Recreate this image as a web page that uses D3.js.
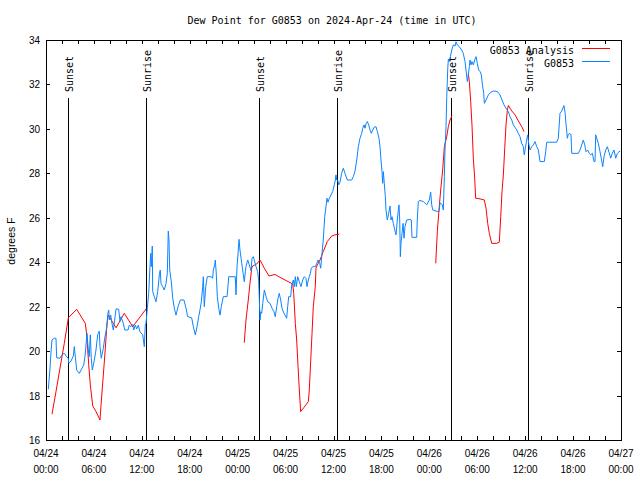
<!DOCTYPE html>
<html><head><meta charset="utf-8">
<script src="https://cdn.jsdelivr.net/npm/d3@7"></script>
<style>body{margin:0;background:#fff}</style>
</head><body>
<svg id="chart" width="640" height="480"></svg>
<script>
const titleText = "Dew Point for G0853 on 2024-Apr-24 (time in UTC)";
const yLabelText = "degrees F";
const seriesNames = ["G0853 Analysis", "G0853"];
const seriesColors = ["#ff0000", "#0a84ff"];
const startUTC = Date.UTC(2024, 3, 24, 0, 0);
const endUTC = Date.UTC(2024, 3, 27, 0, 0);
const yDomain = [16, 34];
const yTickValues = [16, 18, 20, 22, 24, 26, 28, 30, 32, 34];

const sunNames = ["Sunset", "Sunrise", "Sunset", "Sunrise", "Sunset", "Sunrise"];
const sunHours = [2.79, 12.56, 26.71, 36.48, 50.75, 60.39];

// observed G0853: [hours since 04/24 00:00 UTC, deg F]
const obsSeries = [
[0.29,18.28],[0.50,19.23],[0.63,19.97],[0.75,20.5],[1.04,20.58],[1.25,20.58],[1.34,19.7],[1.75,19.68],[2.00,19.83],[2.29,19.9],
[2.59,19.75],[2.79,19.68],[2.84,19.45],[3.13,19.55],[3.42,19.78],[3.54,20.2],[3.67,19.75],[3.84,19.15],[4.17,19.0],[4.51,19.23],
[4.72,19.37],[4.88,19.75],[5.01,20.28],[5.13,20.8],[5.30,20.05],[5.42,19.75],[5.55,20.73],[5.67,19.68],[5.80,19.15],[6.05,19.6],
[6.26,20.05],[6.47,20.73],[6.67,20.9],[6.76,20.2],[6.92,19.68],[7.18,20.12],[7.35,20.58],[7.51,20.87],[7.64,21.17],[7.73,21.65],
[7.85,21.85],[7.93,21.4],[8.10,21.62],[8.26,21.25],[8.43,20.95],[8.60,21.4],[8.77,21.9],[9.10,21.88],[9.27,21.33],[9.39,21.55],
[9.68,21.25],[9.86,20.95],[10.27,20.95],[10.43,21.17],[10.64,21.1],[10.86,21.2],[10.98,20.95],[11.18,21.17],[11.36,21.0],[11.56,21.17],
[11.77,20.87],[12.11,20.73],[12.31,20.2],[12.43,21.17],[12.52,21.25],[12.69,21.93],[12.86,22.6],[13.02,23.8],[13.11,24.4],[13.19,23.8],
[13.31,24.73],[13.36,22.68],[13.56,22.45],[13.77,22.22],[13.99,22.68],[14.19,23.43],[14.31,23.65],[14.40,23.05],[14.61,22.9],[14.81,22.75],
[15.03,23.05],[15.19,23.5],[15.31,25.4],[15.40,25.0],[15.49,23.65],[15.69,23.12],[15.87,22.38],[16.07,21.93],[16.28,21.62],[16.53,22.0],
[16.82,22.3],[17.28,22.3],[17.53,21.93],[17.74,21.55],[18.24,21.5],[18.45,21.1],[18.70,20.73],[18.91,21.1],[19.12,21.55],[19.28,21.85],
[19.45,22.22],[19.62,22.9],[19.70,23.35],[19.82,22.0],[20.00,22.9],[20.20,23.35],[20.66,23.35],[20.87,23.28],[20.95,23.65],[21.13,23.88],
[21.20,24.1],[21.33,23.43],[21.45,22.45],[21.63,21.93],[21.79,21.62],[21.95,22.0],[22.20,22.45],[22.67,22.45],[22.79,22.93],[22.88,23.35],
[23.70,23.35],[23.79,22.53],[23.92,23.8],[24.08,24.55],[24.17,25.03],[24.29,24.55],[24.51,23.95],[24.71,23.43],[24.83,23.12],[24.96,23.57],
[25.04,23.8],[25.26,24.1],[25.46,23.88],[25.67,23.62],[25.80,24.18],[25.96,24.25],[26.08,24.1],[26.30,23.8],[26.51,23.57],[26.63,23.2],
[26.80,21.4],[26.89,21.77],[27.01,21.7],[27.14,22.15],[27.34,22.75],[27.55,22.45],[27.76,22.22],[28.05,22.15],[28.30,21.93],[28.55,21.77],
[28.71,21.55],[28.89,22.0],[29.05,22.38],[29.21,22.6],[29.39,22.3],[29.55,21.93],[29.80,21.7],[30.14,21.48],[30.26,22.0],[30.39,22.45],
[30.64,22.45],[30.77,22.98],[30.97,23.2],[31.09,22.9],[31.22,23.35],[31.34,22.9],[31.52,23.35],[31.72,23.12],[31.93,22.9],[32.14,23.2],
[32.34,23.35],[32.56,23.27],[32.68,22.9],[32.85,23.2],[32.97,23.35],[33.10,23.5],[33.22,23.73],[33.40,23.8],[33.72,23.8],[33.90,23.95],
[34.06,24.1],[34.27,23.95],[34.40,23.73],[34.56,24.4],[34.72,25.0],[34.90,26.05],[35.06,26.5],[35.19,26.88],[35.31,26.7],[35.48,26.88],
[35.69,27.03],[35.90,27.18],[36.10,27.48],[36.23,27.7],[36.31,27.93],[36.40,27.7],[36.53,27.7],[36.65,27.48],[36.81,27.6],[37.02,28.0],
[37.23,28.23],[37.44,28.0],[37.73,27.7],[38.28,27.7],[38.48,27.85],[38.69,28.1],[38.91,28.6],[39.11,29.2],[39.32,29.58],[39.53,29.8],
[39.66,30.03],[39.82,30.18],[39.95,30.03],[40.07,30.23],[40.23,30.33],[40.41,30.18],[40.57,29.95],[40.73,29.8],[40.91,29.95],[41.11,30.08],
[41.32,30.1],[41.49,29.88],[41.70,29.58],[41.82,29.2],[41.95,28.6],[42.07,28.08],[42.16,27.55],[42.24,28.08],[42.36,27.55],[42.49,26.95],
[42.57,26.35],[42.74,25.9],[42.91,26.2],[43.08,26.53],[43.20,25.9],[43.33,26.05],[43.49,25.75],[43.67,25.45],[43.83,25.23],[43.99,25.9],
[44.12,26.35],[44.20,26.58],[44.29,25.9],[44.37,24.25],[44.45,24.85],[44.58,25.3],[44.71,25.75],[44.83,25.08],[44.95,25.6],[45.17,25.9],
[45.58,25.93],[45.74,25.9],[45.83,25.12],[46.42,25.12],[46.49,25.9],[46.62,26.73],[46.83,26.78],[47.25,26.73],[47.67,26.58],[48.00,26.8],
[48.17,27.15],[48.30,26.58],[48.42,26.35],[49.00,26.28],[49.21,26.28],[49.34,26.65],[49.46,26.65],[49.62,26.58],[49.75,26.35],[49.88,27.85],
[49.96,29.05],[50.09,30.1],[50.18,31.45],[50.30,32.65],[50.38,33.13],[50.50,33.03],[50.63,33.25],[50.81,33.55],[51.01,33.78],[51.22,33.73],
[51.34,33.92],[51.50,33.78],[51.75,33.7],[52.05,33.55],[52.25,33.4],[52.47,33.03],[52.59,32.65],[52.76,32.13],[52.88,32.43],[53.01,32.8],
[53.09,33.1],[53.22,32.88],[53.34,33.03],[53.51,32.88],[53.68,33.1],[53.85,33.25],[54.01,32.95],[54.18,32.65],[54.35,32.58],[54.51,32.43],
[54.63,32.05],[54.81,31.6],[54.89,31.15],[55.10,31.3],[55.39,31.53],[55.69,31.65],[56.01,31.7],[56.35,31.7],[56.60,31.65],[56.85,31.53],
[57.10,31.3],[57.35,31.08],[57.60,30.93],[57.89,30.78],[58.10,30.55],[58.32,30.4],[58.52,30.18],[58.73,30.07],[58.94,29.95],[59.14,29.8],
[59.35,29.65],[59.57,29.35],[59.77,29.2],[59.89,28.83],[60.02,29.13],[60.19,29.5],[60.32,29.73],[60.44,29.35],[60.61,29.05],[60.82,29.2],
[61.02,29.28],[61.23,29.43],[61.45,29.2],[61.65,29.05],[61.86,28.53],[62.40,28.53],[62.57,28.98],[62.70,29.4],[63.95,29.4],[64.15,29.58],
[64.36,30.7],[64.57,30.8],[64.86,31.05],[64.99,30.75],[65.11,30.25],[65.28,29.58],[65.40,29.75],[65.61,29.8],[65.74,29.73],[65.83,28.9],
[66.66,28.9],[66.87,29.05],[67.08,29.28],[67.28,29.5],[67.46,29.28],[67.62,28.97],[67.83,29.05],[68.03,28.9],[68.21,28.83],[68.41,28.9],
[68.62,28.53],[68.75,28.53],[68.83,29.73],[68.96,29.58],[69.16,29.35],[69.37,28.98],[69.53,28.68],[69.71,28.3],[69.87,28.75],[70.09,29.05],
[70.29,29.2],[70.50,28.95],[70.71,28.68],[70.91,28.9],[71.12,29.05],[71.34,28.68],[71.54,28.9],[71.75,28.97],[71.91,29.0]
];

// analysis G0853: segments separated by gaps
const anaSegments = [
[[0.75,17.16],[1.25,18.17],[1.75,19.23],[2.29,20.35],[2.72,21.32],[2.80,21.5],[3.84,21.88],[4.92,21.25],[5.10,20.73],[5.35,19.38],
 [5.55,18.48],[5.85,17.53],[6.26,17.28],[6.76,16.9],[6.89,17.58],[7.18,18.93],[7.43,20.13],[7.64,21.25],[7.80,21.62],[8.77,21.05],
 [9.80,21.7],[10.86,21.1],[12.43,21.85],[12.52,21.9]],
[[24.83,20.38],[25.04,21.4],[25.33,22.3],[25.54,23.05],[25.76,23.73],[25.88,23.83],[26.38,23.92],[26.80,24.1],[27.34,23.73],[27.92,23.38],
 [28.68,23.45],[29.30,23.32],[29.93,23.2],[30.89,23.02],[31.02,22.6],[31.22,21.25],[31.39,20.5],[31.56,19.3],[31.72,18.25],[31.89,17.28],
 [32.31,17.47],[32.85,17.73],[32.97,18.25],[33.15,19.6],[33.31,20.8],[33.47,22.0],[33.72,22.9],[33.81,23.73],[33.97,23.88],[34.31,24.1],
 [34.72,24.48],[35.22,24.93],[35.78,25.18],[36.19,25.23],[36.73,25.27]],
[[48.80,23.95],[49.00,25.37],[49.21,26.35],[49.42,27.25],[49.67,28.15],[49.88,29.2],[50.18,29.65],[50.38,30.1],[50.59,30.4],[50.84,30.6]],
[[52.88,32.5],[53.01,32.13],[53.18,31.23],[53.34,30.18],[53.51,28.68],[53.68,27.78],[53.80,26.88],[54.35,26.85],[54.89,26.8],[55.10,26.43],
 [55.31,25.75],[55.51,25.3],[55.81,24.85],[56.44,24.85],[56.76,24.9],[56.94,26.05],[57.10,27.17],[57.27,27.93],[57.44,29.13],[57.60,30.18],
 [57.77,30.85],[57.89,31.05],[58.32,30.81],[58.73,30.63],[59.14,30.36],[59.57,30.1],[59.86,29.88]]
];

const svg = d3.select("#chart");
const L = 46, R = 621, T = 40, B = 440;
const toDate = h => new Date(startUTC + h * 3600e3);
const x = d3.scaleUtc().domain([new Date(startUTC), new Date(endUTC)]).range([L, R]);
const y = d3.scaleLinear().domain(yDomain).range([B, T]);

const monoFont = "'DejaVu Sans Mono', monospace";
const sansFont = "'Liberation Sans', Arial, sans-serif";

// title
svg.append("text").attr("x", 332).attr("y", 24).attr("text-anchor", "middle")
  .attr("font-family", monoFont).attr("font-size", 10).text(titleText);

// x ticks every 2 hours (inward), labels every 6 hours
const minorTicks = d3.utcHour.every(2).range(new Date(startUTC), new Date(endUTC + 1));
const majorTicks = d3.utcHour.every(6).range(new Date(startUTC), new Date(endUTC + 1));
const gx = svg.append("g").attr("shape-rendering", "crispEdges");
minorTicks.forEach(t => {
  const xx = Math.round(x(t)) + 0.5;
  gx.append("line").attr("x1", xx).attr("x2", xx).attr("y1", B).attr("y2", B - 4).attr("stroke", "#000");
  gx.append("line").attr("x1", xx).attr("x2", xx).attr("y1", T).attr("y2", T + 4).attr("stroke", "#000");
});
const fDay = d3.utcFormat("%m/%d"), fHour = d3.utcFormat("%H:%M");
majorTicks.forEach(t => {
  const xx = x(t);
  gx.append("text").attr("x", xx).attr("y", 457).attr("text-anchor", "middle")
    .attr("font-family", sansFont).attr("font-size", 10).text(fDay(t));
  gx.append("text").attr("x", xx).attr("y", 473).attr("text-anchor", "middle")
    .attr("font-family", sansFont).attr("font-size", 10).text(fHour(t));
});

// y ticks
yTickValues.forEach(v => {
  const yy = Math.round(y(v)) + 0.5;
  gx.append("line").attr("x1", L).attr("x2", L + 4).attr("y1", yy).attr("y2", yy).attr("stroke", "#000");
  gx.append("line").attr("x1", R - 4).attr("x2", R).attr("y1", yy).attr("y2", yy).attr("stroke", "#000");
  gx.append("text").attr("x", 40).attr("y", y(v) + 4).attr("text-anchor", "end")
    .attr("font-family", sansFont).attr("font-size", 10).text(v);
});

// y label
svg.append("text").attr("transform", "translate(15,241) rotate(-90)").attr("text-anchor", "middle")
  .attr("font-family", sansFont).attr("font-size", 10.5).text(yLabelText);

// sunrise / sunset markers
sunHours.forEach((h, i) => {
  const xx = Math.round(x(toDate(h))) + 0.5;
  svg.append("line").attr("x1", xx).attr("x2", xx).attr("y1", 98).attr("y2", B)
    .attr("stroke", "#000").attr("shape-rendering", "crispEdges");
  svg.append("text").attr("transform", `translate(${xx + 4},92) rotate(-90)`).attr("text-anchor", "start")
    .attr("font-family", monoFont).attr("font-size", 10).text(sunNames[i]);
});

// lines
const line = d3.line().x(d => x(toDate(d[0]))).y(d => y(d[1]));
anaSegments.forEach(seg => {
  svg.append("path").datum(seg).attr("d", line).attr("fill", "none")
    .attr("stroke", seriesColors[0]).attr("stroke-width", 1);
});
svg.append("path").datum(obsSeries).attr("d", line).attr("fill", "none")
  .attr("stroke", seriesColors[1]).attr("stroke-width", 1);

// frame
svg.append("rect").attr("x", L + 0.5).attr("y", T + 0.5).attr("width", R - L).attr("height", B - T)
  .attr("fill", "none").attr("stroke", "#000").attr("shape-rendering", "crispEdges");

// legend
seriesNames.forEach((name, i) => {
  const yy = 50 + i * 13;
  svg.append("text").attr("x", 574).attr("y", yy + 4).attr("text-anchor", "end")
    .attr("font-family", monoFont).attr("font-size", 10).text(name);
  svg.append("line").attr("x1", 582).attr("x2", 610).attr("y1", yy - 1.5).attr("y2", yy - 1.5)
    .attr("stroke", seriesColors[i]).attr("stroke-width", 1);
});
</script>
</body></html>
